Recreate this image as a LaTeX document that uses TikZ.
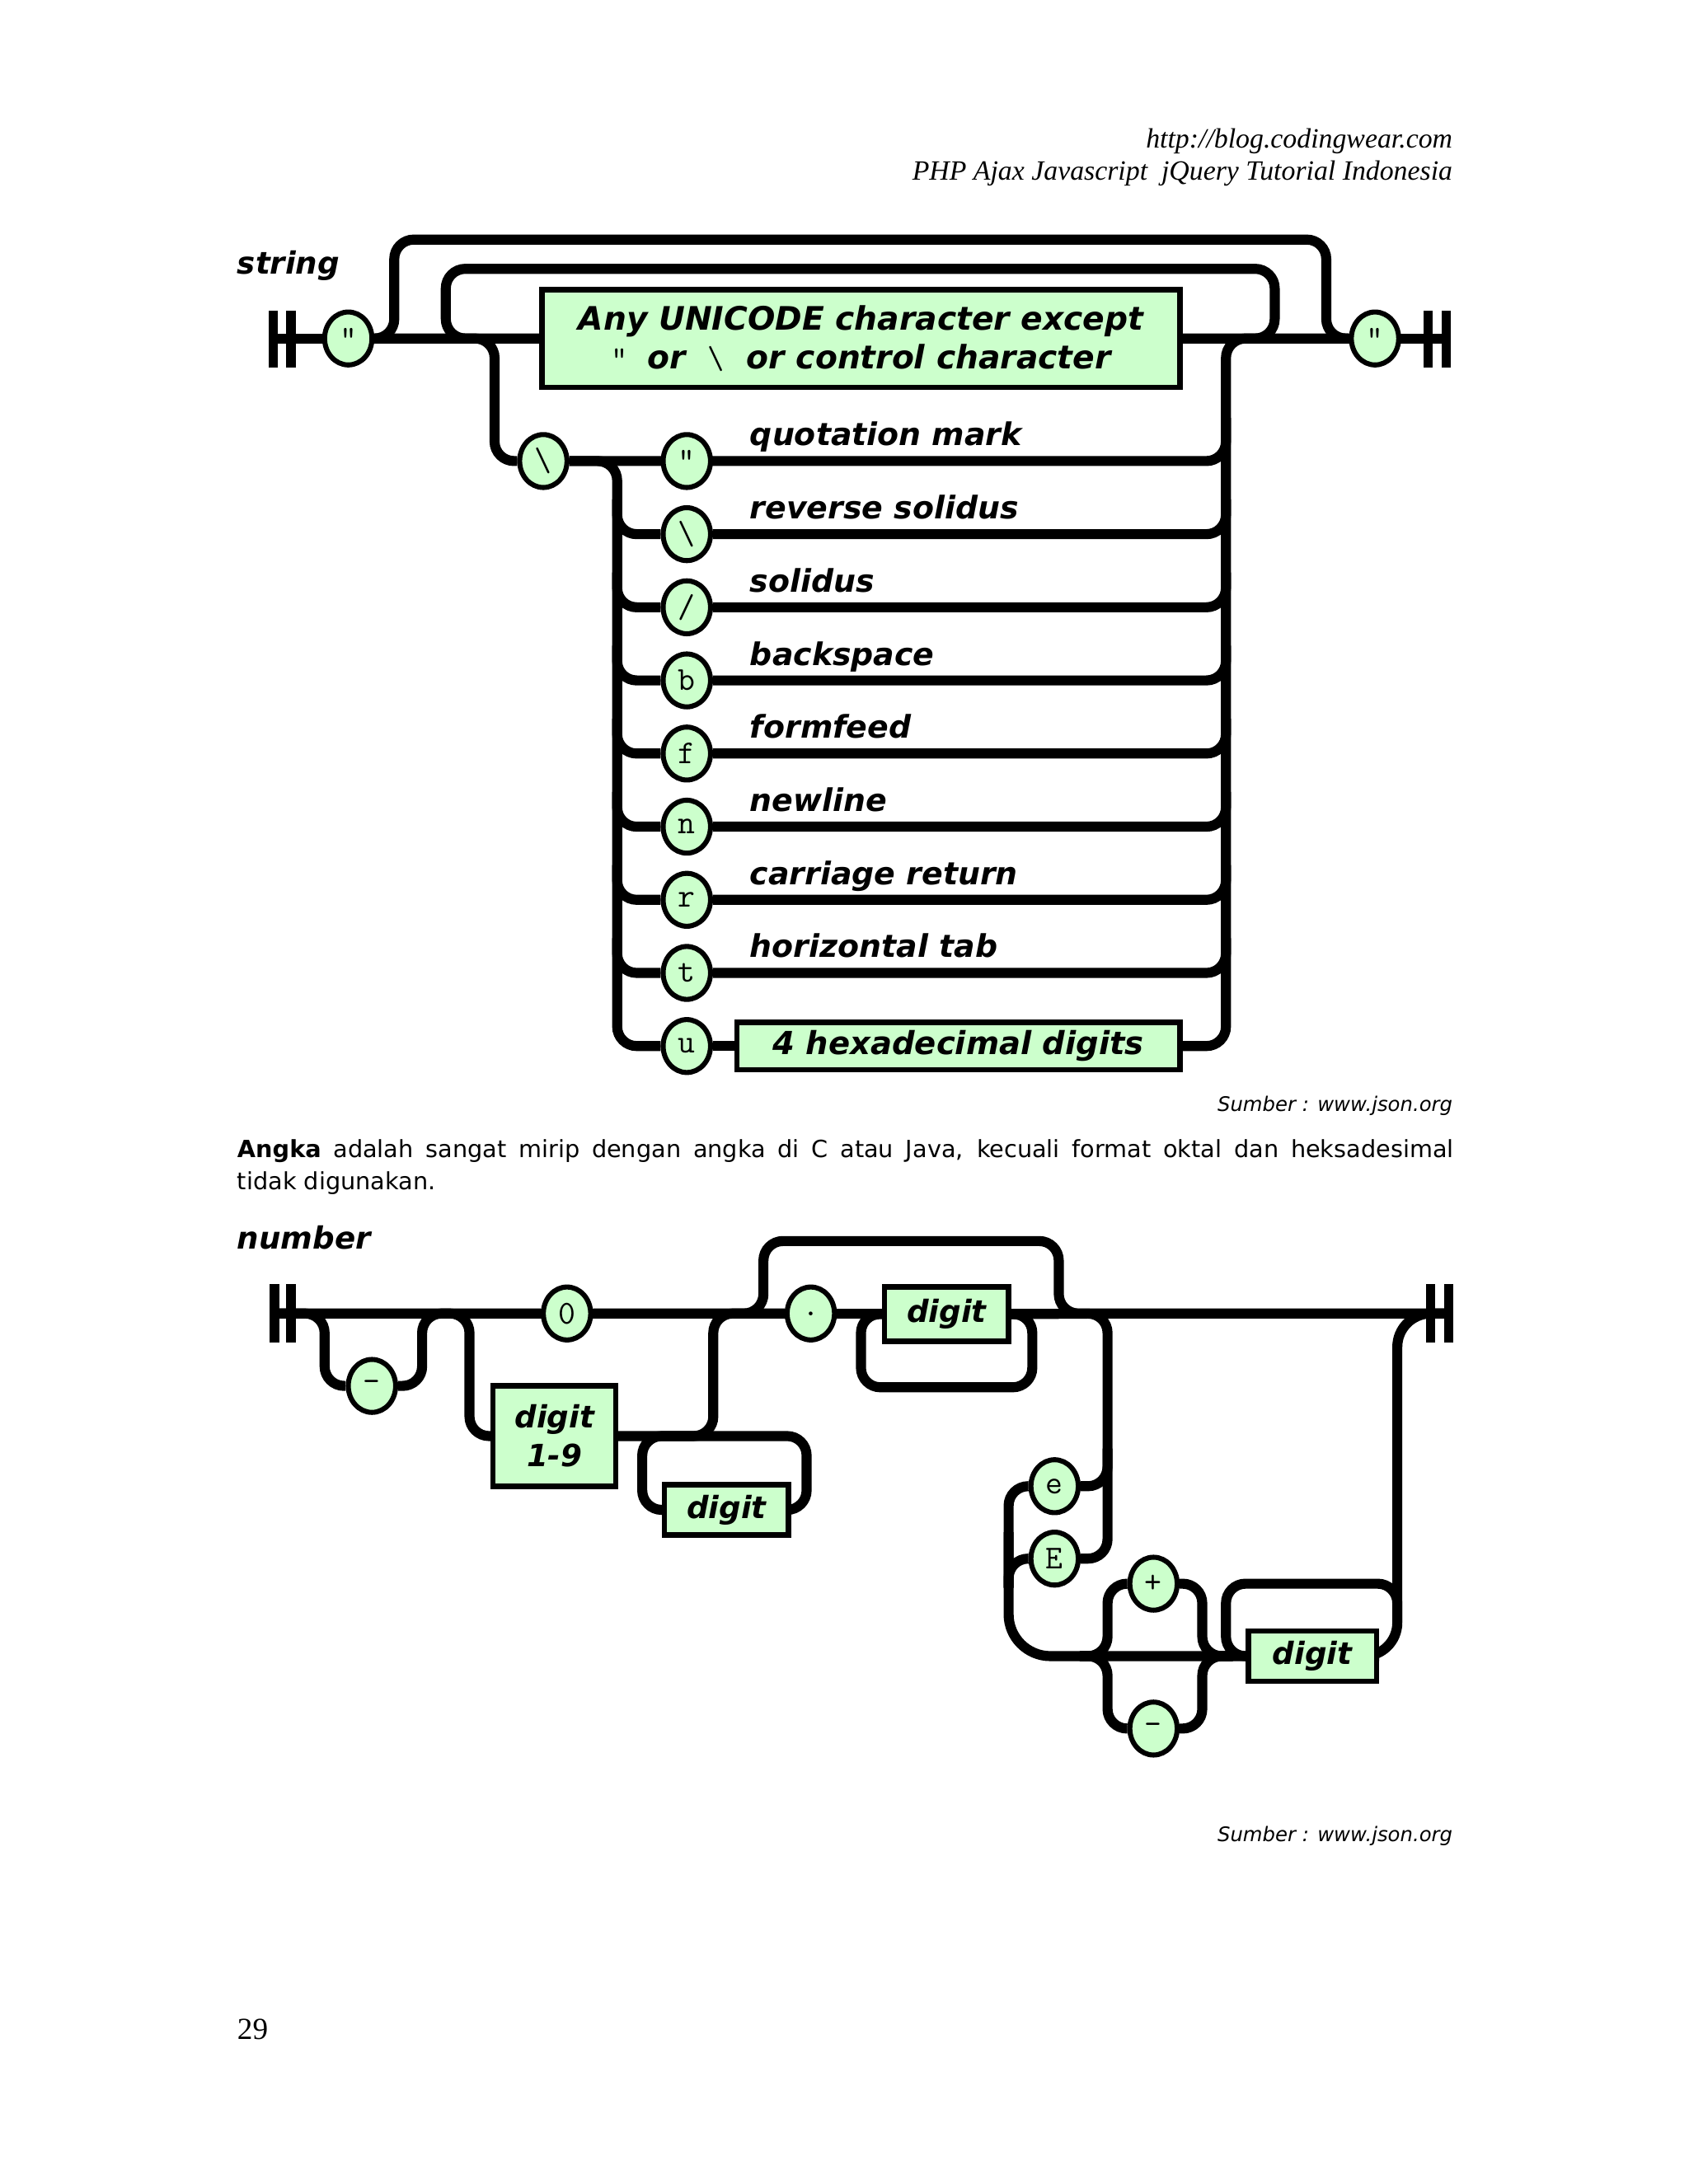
\documentclass[tikz,border=0pt]{standalone}
\usepackage{fontspec}
\setmainfont{Liberation Serif}
\newfontfamily\djv{DejaVu Sans}
\usetikzlibrary{shapes.geometric,backgrounds}
\definecolor{rrgreen}{RGB}{204,255,204}
\tikzset{
  rail/.style={line width=3.6pt, rounded corners=7pt},
  endbar/.style={line width=3.4pt},
  term/.style={ellipse, draw, line width=1.8pt, fill=rrgreen, minimum width=17pt,
    minimum height=19pt, inner sep=0pt, font=\ttfamily\fontsize{12}{12}\selectfont},
  nonterm/.style={rectangle, draw, line width=1.9pt, fill=rrgreen, inner sep=0pt,
    align=center, font=\djv\bfseries\itshape\fontsize{11}{14}\selectfont},
  lbl/.style={anchor=base west, inner sep=0pt, font=\djv\bfseries\itshape\fontsize{11.2}{12}\selectfont},
  ttl/.style={anchor=base west, inner sep=0pt, font=\djv\bfseries\itshape\fontsize{11}{12}\selectfont},
  hdr/.style={anchor=base east, inner sep=0pt, font=\itshape\fontsize{10}{12}\selectfont},
  src/.style={anchor=base east, inner sep=0pt, font=\djv\itshape\fontsize{7.2}{9}\selectfont},
  body/.style={anchor=base west, inner sep=0pt, font=\djv\fontsize{8.5}{11.5}\selectfont},
}
\begin{document}
\begin{tikzpicture}[x=0.5pt,y=-0.5pt]
\useasboundingbox (0,0) rectangle (1212,1568);
\begin{pgfonlayer}{background}
  \fill[white] (0,0) rectangle (1212,1568);
\end{pgfonlayer}

% ---------- header ----------
\node[hdr] (h1) at (1043,106) {http://blog.codingwear.com};
\node[hdr] (h2) at (1043,129) {PHP Ajax Javascript\ \ jQuery Tutorial Indonesia};

% ---------- string diagram ----------
\node[ttl] (tstring) at (170,197) {string};
\coordinate (sL) at (196,243);
\coordinate (sR) at (1038,243);
\node[term] (sq1) at (250,243) {"};
\node[term] (sq2) at (987,243) {"};
\node[nonterm, minimum width=229pt, minimum height=35pt, font=\djv\bfseries\itshape\fontsize{11.6}{14}\selectfont] (sbox) at (618,243)
  {Any UNICODE character except\\{\ttfamily\mdseries\upshape "}\hspace{7pt}or\hspace{8pt}{\ttfamily\mdseries\upshape\textbackslash}\hspace{8pt}or control character};
\node[term] (sesc) at (390,331) {\textbackslash};
\foreach \k/\c in {0/",1/\textbackslash,2/{/},3/b,4/f,5/n,6/r,7/t,8/u}{
  \node[term] (sa\k) at (493,{331+52.5*\k}) {\c};
}
\node[nonterm, minimum width=159pt, minimum height=17pt, font=\djv\bfseries\itshape\fontsize{11.4}{12}\selectfont] (shex) at (688,751) {4 hexadecimal digits};
\foreach \k/\t in {0/quotation mark,1/reverse solidus,2/solidus,3/backspace,4/formfeed,5/newline,6/carriage return,7/horizontal tab}{
  \node[lbl] (sl\k) at (538,{331+52.5*\k-11}) {\t};
}
\node[src] (src1) at (1043,798) {Sumber : www.json.org};

\begin{pgfonlayer}{background}
  \draw[endbar] (196,223) -- (196,264);
  \draw[endbar] (209,223) -- (209,264);
  \draw[endbar] (1025,223) -- (1025,264);
  \draw[endbar] (1038,223) -- (1038,264);
  \draw[rail] (sL) -- (sR);
  % empty string bypass
  \draw[rail] (sq1.east) -- (283,243) -- (283,172) -- (952,172) -- (952,243) -- (sq2.west);
  % repetition loop
  \draw[rail] (sbox.east) -- (915,243) -- (915,193) -- (320,193) -- (320,243) -- (sbox.west);
  % escape branch
  \draw[rail] (sq1.east) -- (355,243) -- (355,331) -- (sesc.west);
  \draw[rail] (sq2.west) -- (880,243) -- (880,751) -- (shex.east);
  \draw[rail] (sesc.east) -- (443,331) -- (443,751) -- (sa8.west);
  \draw[rail] (sesc.east) -- (880,331) -- (880,300);
  \draw[rail] (sa8.east) -- (shex.west);
  \foreach \k in {1,...,7}{
    \draw[rail] (443,{331+52.5*\k-25}) -- (443,{331+52.5*\k}) -- (sa\k.west);
    \draw[rail] (sa\k.east) -- (880,{331+52.5*\k}) -- (880,{331+52.5*\k-25});
  }
\end{pgfonlayer}

% ---------- paragraph ----------
\node[body] (p1) at (170,831) {\makebox[436.5pt][s]{{\bfseries Angka} adalah sangat mirip dengan angka di C atau Java, kecuali format oktal dan heksadesimal}};
\node[body] (p2) at (170,854) {tidak digunakan.};

% ---------- number diagram ----------
\node[ttl] (tnumber) at (170,897) {number};
\coordinate (nL) at (197,943);
\coordinate (nR) at (1040,943);
\node[term] (nmi) at (267,995) {-};
\node[term] (n0) at (407,943) {0};
\node[nonterm, minimum width=44pt, minimum height=36pt] (nd19) at (398,1031) {digit\\1-9};
\node[nonterm, minimum width=44.5pt, minimum height=18pt] (nd1) at (521.5,1084) {digit};
\node[term] (ndot) at (582,943) {.};
\node[nonterm, minimum width=44.5pt, minimum height=19.5pt] (nd2) at (679.5,943.5) {digit};
\node[term] (ne) at (757,1067) {e};
\node[term] (nE) at (757,1119) {E};
\node[term] (npl) at (828,1137) {+};
\node[term] (nmi2) at (828,1241) {-};
\node[nonterm, minimum width=46pt, minimum height=18pt] (nd3) at (942,1189) {digit};
\coordinate (ejoin) at (724,1100);
\coordinate (sgL) at (775,1189);
\coordinate (sgR) at (885,1189);
\coordinate (xl) at (1003,1165);
\node[src] (src2) at (1043,1322) {Sumber : www.json.org};
\node[anchor=base west, inner sep=0pt, font=\fontsize{11}{13}\selectfont] (pg) at (170,1464) {29};

\begin{pgfonlayer}{background}
  \draw[endbar] (197,922) -- (197,964);
  \draw[endbar] (209,922) -- (209,964);
  \draw[endbar] (1027,922) -- (1027,964);
  \draw[endbar] (1040,922) -- (1040,964);
  \draw[rail] (nL) -- (nR);
  % minus
  \draw[rail] (nL) -- (233,943) -- (233,995) -- (nmi.west);
  \draw[rail] (nmi.east) -- (303,995) -- (303,943) -- (n0.west);
  % int part
  \draw[rail] (nL) -- (337,943) -- (337,1031) -- (nd19.west);
  \draw[rail] (nd19.east) -- (512,1031) -- (512,943) -- (ndot.west);
  \draw[rail] (nd1.east) -- (579,1084) -- (579,1031) -- (461,1031) -- (461,1084) -- (nd1.west);
  % fraction
  \draw[rail] (n0.east) -- (548,943) -- (548,891) -- (760,891) -- (760,943) -- (nR);
  \draw[rail] (nd2.east) -- (741,943) -- (741,996) -- (618,996) -- (618,943) -- (nd2.west);
  % exponent
  \draw[rail] (nd2.east) -- (795,943) -- (795,1119) -- (nE.east);
  \draw[rail] (ne.east) -- (795,1067) -- (795,1040);
  \draw[rail] (ne.west) -- (724,1067) -- (724,1140);
  \draw[rail] (nE.west) -- (724,1119) -- (724,1140);
  \draw[rail, rounded corners=15pt] (ejoin) -- (724,1189) -- (nd3.west);
  \draw[rail] (sgL) -- (795,1189) -- (795,1137) -- (npl.west);
  \draw[rail] (sgL) -- (795,1189) -- (795,1241) -- (nmi2.west);
  \draw[rail] (npl.east) -- (863,1137) -- (863,1189) -- (sgR);
  \draw[rail] (nmi2.east) -- (863,1241) -- (863,1189) -- (sgR);
  \draw[rail, rounded corners=12pt] (nd3.east) -- (1003,1189) -- (1003,943) -- (nR);
  \draw[rail] (xl) -- (1003,1137) -- (880,1137) -- (880,1189) -- (nd3.west);
\end{pgfonlayer}
\end{tikzpicture}
\end{document}
